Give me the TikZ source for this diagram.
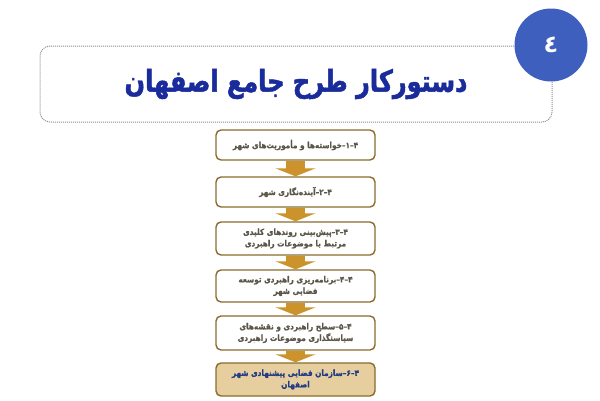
\documentclass[tikz,border=0pt]{standalone}
\usepackage{fontspec}
\usetikzlibrary{arrows.meta}
\TeXXeTstate=1
\newfontfamily\arabicfont[Script=Arabic]{DejaVu Sans}
\newfontfamily\boxfont[Script=Arabic,FakeStretch=0.86,BoldFeatures={FakeBold=0.8}]{DejaVu Sans}
\newfontfamily\titlefont[Script=Arabic,FakeStretch=0.8,BoldFeatures={FakeBold=1.6}]{DejaVu Sans}
\definecolor{titleblue}{HTML}{1A2C9C}
\definecolor{circblue}{HTML}{3F5FBF}
\definecolor{boxborder}{HTML}{8A6C2E}
\definecolor{boxtext}{HTML}{5A5648}
\definecolor{lastfill}{HTML}{E6CE9E}
\definecolor{lasttext}{HTML}{213C86}
\definecolor{arrowgold}{HTML}{CC932C}
\definecolor{dotgray}{HTML}{8C8C8C}
\tikzset{
  stepbox/.style={draw=boxborder, line width=1.4pt, rounded corners=5pt, fill=white,
    minimum width=159pt, align=center, inner sep=1pt,
    font=\boxfont\bfseries\fontsize{8.5}{11.5}\selectfont, text=boxtext},
  lastbox/.style={stepbox, fill=lastfill, text=lasttext},
  flowarrow/.style={draw=arrowgold, line width=19pt, -{Triangle[width=40pt,length=8pt]}},
  titlebox/.style={draw=dotgray, dash pattern=on 1pt off 1pt, line width=1pt, rounded corners=10pt,
    minimum width=512pt, minimum height=76pt,
    font=\titlefont\bfseries\fontsize{30}{34}\selectfont, text=titleblue},
  numcircle/.style={circle, fill=circblue, minimum size=73pt, inner sep=0pt,
    font=\arabicfont\bfseries\fontsize{24}{28}\selectfont, text=white}
}
\begin{document}
\begin{tikzpicture}[x=1pt,y=-1pt]
\useasboundingbox (0,0) rectangle (600,400);
\fill[white] (0,0) rectangle (600,400);
\node[titlebox] (title) at (296,84) {\beginR دستورکار طرح جامع اصفهان\endR};
\node[numcircle] (num) at (551,45) {\beginR ٤\endR};

\node[stepbox, minimum height=30pt] (b1) at (295.5,145) {\beginR ۴–۱–خواسته‌ها و مأموریت‌های شهر\endR};
\node[stepbox, minimum height=30pt] (b2) at (295.5,192) {\beginR ۴–۲–آینده‌نگاری شهر\endR};
\node[stepbox, minimum height=33pt] (b3) at (295.5,238.5) {\beginR ۴–۳–پیش‌بینی روندهای کلیدی\endR\\\beginR مرتبط با موضوعات راهبردی\endR};
\node[stepbox, minimum height=32pt] (b4) at (295.5,286) {\beginR ۴–۴–برنامه‌ریزی راهبردی توسعه\endR\\\beginR فضایی شهر\endR};
\node[stepbox, minimum height=34pt] (b5) at (295.5,333) {\beginR ۴–۵–سطح راهبردی و نقشه‌های\endR\\\beginR سیاستگذاری موضوعات راهبردی\endR};
\node[lastbox, minimum height=33pt] (b6) at (295.5,379.5) {\beginR ۴–۶–سازمان فضایی پیشنهادی شهر\endR\\\beginR اصفهان\endR};

\draw[flowarrow] (b1.south) -- (b2.north);
\draw[flowarrow] (b2.south) -- (b3.north);
\draw[flowarrow] (b3.south) -- (b4.north);
\draw[flowarrow] (b4.south) -- (b5.north);
\draw[flowarrow] (b5.south) -- (b6.north);
\end{tikzpicture}
\end{document}
